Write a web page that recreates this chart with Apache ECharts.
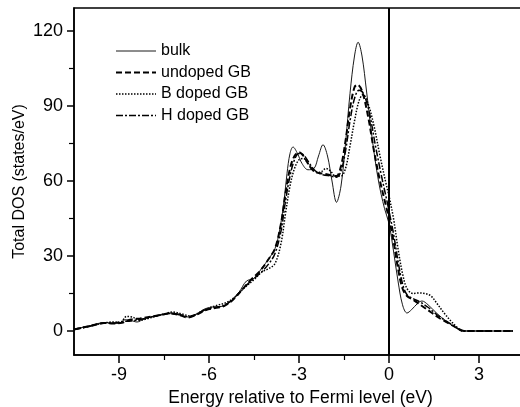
<!DOCTYPE html>
<html>
<head>
<meta charset="utf-8">
<script src="https://cdn.jsdelivr.net/npm/echarts@6/dist/echarts.min.js"></script>
<style>
html,body{margin:0;padding:0;background:#fff;}
#chart{width:520px;height:407px;}
</style>
</head>
<body>
<div id="chart"></div>
<script>
var seriesNames = ['bulk', 'undoped GB', 'B doped GB', 'H doped GB'];
var xMajorTicks = [-9, -6, -3, 0, 3];
var xMinorTicks = [-7.5, -4.5, -1.5, 1.5, 4.5];
var yMajorTicks = [0, 30, 60, 90, 120];
var yMinorTicks = [15, 45, 75, 105];

var bulk = [[-10.5,0.8],[-10.2,1.5],[-9.9,2.3],[-9.5,3.4],[-9.2,3.2],[-9.0,3.0],[-8.8,4.5],[-8.6,4.2],[-8.4,3.6],[-8.2,4.6],[-7.9,5.8],[-7.6,6.6],[-7.3,7.2],[-7.0,6.8],[-6.7,5.6],[-6.5,6.0],[-6.2,8.5],[-5.9,9.6],[-5.6,9.8],[-5.3,11.5],[-5.0,15.5],[-4.75,20],[-4.5,21],[-4.25,25],[-4.0,29],[-3.8,33],[-3.65,40],[-3.5,52],[-3.4,63],[-3.3,71],[-3.2,73.6],[-3.05,71],[-2.9,67],[-2.7,64.5],[-2.5,65],[-2.35,70],[-2.2,74.5],[-2.05,70],[-1.9,60],[-1.75,51.5],[-1.6,58],[-1.45,75],[-1.3,95],[-1.15,110],[-1.03,115.5],[-0.9,110],[-0.75,96],[-0.55,76],[-0.35,60],[-0.15,49],[0,43],[0.15,32],[0.3,20],[0.45,10.5],[0.6,7.2],[0.75,8.5],[0.95,11],[1.1,12],[1.3,10.5],[1.6,7],[1.9,4],[2.2,1.5],[2.45,0.1],[2.6,0],[4.13,0]];

var undoped = [[-10.5,0.6],[-10.2,1.4],[-9.9,2.2],[-9.5,3.2],[-9.2,3.0],[-8.9,3.3],[-8.6,4.6],[-8.3,5.0],[-8.0,5.6],[-7.6,6.4],[-7.3,7.0],[-7.0,6.4],[-6.7,5.4],[-6.4,6.6],[-6.1,8.4],[-5.8,9.2],[-5.5,10],[-5.2,12.5],[-4.9,16.5],[-4.6,20.5],[-4.3,24],[-4.0,29],[-3.8,33],[-3.6,43],[-3.45,55],[-3.3,65],[-3.15,70],[-3.0,71.5],[-2.85,70],[-2.65,66],[-2.45,63.5],[-2.2,63],[-1.95,62.3],[-1.75,62],[-1.6,66],[-1.45,76],[-1.3,89],[-1.15,97.5],[-1.05,98.5],[-0.9,96],[-0.7,86],[-0.5,72],[-0.3,60],[-0.1,50],[0,45],[0.15,36],[0.3,25],[0.45,17],[0.6,14],[0.8,12.5],[1.1,10],[1.4,7.5],[1.7,5],[2.0,3],[2.3,1],[2.5,0],[4.13,0]];

var bDoped = [[-10.5,0.7],[-10.2,1.4],[-9.9,2.2],[-9.5,3.2],[-9.2,3.6],[-8.95,3.4],[-8.75,5.8],[-8.55,5.6],[-8.35,4.2],[-8.1,4.8],[-7.8,5.8],[-7.5,6.8],[-7.2,7.6],[-6.9,6.8],[-6.6,6.0],[-6.3,7.6],[-6.0,9.2],[-5.7,10.4],[-5.4,11.5],[-5.1,14],[-4.8,17.5],[-4.5,20.5],[-4.25,23.5],[-4.0,25],[-3.8,27],[-3.6,35],[-3.45,47],[-3.3,58],[-3.15,65],[-3.0,68.5],[-2.85,69],[-2.7,67],[-2.5,64],[-2.3,63.5],[-2.1,65],[-1.95,64],[-1.8,62],[-1.6,62],[-1.45,65],[-1.3,74],[-1.15,84],[-1.0,92],[-0.87,94.5],[-0.7,91],[-0.5,82],[-0.3,70],[-0.1,59],[0.0,54],[0.15,45],[0.3,33],[0.45,23],[0.6,17],[0.8,15],[1.0,15.2],[1.2,15],[1.4,14],[1.6,11],[1.85,7],[2.1,3.5],[2.3,1.2],[2.47,0],[4.13,0]];

var hDoped = [[-10.5,0.6],[-10.2,1.3],[-9.9,2.1],[-9.5,3.1],[-9.2,3.1],[-8.9,3.8],[-8.6,4.0],[-8.3,4.6],[-8.0,5.4],[-7.6,6.4],[-7.3,7.0],[-7.0,6.5],[-6.7,5.8],[-6.4,6.8],[-6.1,8.6],[-5.8,9.4],[-5.5,10.2],[-5.2,12.8],[-4.9,16.5],[-4.6,20],[-4.3,23],[-4.0,27],[-3.8,31],[-3.6,40],[-3.45,52],[-3.3,62],[-3.15,68.5],[-3.0,71],[-2.85,70.5],[-2.65,67],[-2.45,64],[-2.2,62.5],[-1.95,62],[-1.75,61.5],[-1.6,64],[-1.45,72],[-1.3,84],[-1.15,93],[-1.0,96.3],[-0.85,95],[-0.65,87],[-0.45,74],[-0.25,62],[-0.05,51],[0.0,48],[0.15,39],[0.3,28],[0.45,19],[0.6,14.5],[0.8,13],[1.05,11.5],[1.3,9.5],[1.6,6.5],[1.9,4],[2.2,1.8],[2.45,0],[4.13,0]];

var FONT = '"Liberation Sans", Arial, Helvetica, sans-serif';
var X_MIN = -10.5, X_MAX = 4.6, Y_MIN = -9.6, Y_MAX = 129.2;

var styles = [
  {color: '#000', width: 0.9, type: 'solid'},
  {color: '#000', width: 2, type: [6, 3]},
  {color: '#000', width: 1.5, type: [1.5, 1.5]},
  {color: '#000', width: 1.5, type: [7, 2, 2, 2]}
];

var chart = echarts.init(document.getElementById('chart'), null, {renderer: 'canvas'});

function lineSeries(name, data, lineStyle) {
  return {
    name: name, type: 'line', data: data, xAxisIndex: 0, yAxisIndex: 0,
    symbol: 'none', smooth: 0.35, animation: false,
    lineStyle: lineStyle, itemStyle: {color: '#000', opacity: 0}, z: 3
  };
}

var series = [
  lineSeries(seriesNames[0], bulk, styles[0]),
  lineSeries(seriesNames[1], undoped, styles[1]),
  lineSeries(seriesNames[2], bDoped, styles[2]),
  lineSeries(seriesNames[3], hDoped, styles[3])
];
series[0].markLine = {
  symbol: 'none', silent: true, animation: false,
  label: {show: false},
  lineStyle: {color: '#000', width: 2, type: 'solid'},
  data: [{xAxis: 0}]
};

chart.setOption({
  animation: false,
  backgroundColor: '#fff',
  textStyle: {fontFamily: FONT, color: '#000'},
  grid: {left: 74, top: 8, width: 453, height: 347, show: true, borderColor: '#000', borderWidth: 1.5,
         backgroundColor: 'transparent', containLabel: false, outerBoundsMode: 'none'},
  legend: {
    data: seriesNames.map(function (n, i) {
      return {name: n, lineStyle: styles[i], itemStyle: {opacity: 0}};
    }),
    orient: 'vertical', left: 110, top: 38,
    itemWidth: 40, itemHeight: 14, itemGap: 5.5,
    itemStyle: {opacity: 0},
    textStyle: {fontFamily: FONT, fontSize: 16, color: '#000'},
    inactiveColor: '#000'
  },
  xAxis: [{
    type: 'value', min: X_MIN, max: X_MAX, position: 'bottom',
    name: 'Energy relative to Fermi level (eV)', nameLocation: 'middle', nameGap: 30,
    nameTextStyle: {fontFamily: FONT, fontSize: 17.5, color: '#000'},
    axisLine: {show: true, onZero: false, lineStyle: {color: '#000', width: 1.5}},
    axisTick: {show: true, inside: false, length: 8, customValues: xMajorTicks, lineStyle: {color: '#000', width: 1.5}},
    axisLabel: {show: true, customValues: xMajorTicks, fontFamily: FONT, fontSize: 18, color: '#000', margin: 11},
    splitLine: {show: false}
  }, {
    type: 'value', min: X_MIN, max: X_MAX, position: 'bottom', gridIndex: 0, offset: 0,
    axisLine: {show: false, onZero: false},
    axisTick: {show: true, inside: false, length: 5, customValues: xMinorTicks, lineStyle: {color: '#000', width: 1.2}},
    axisLabel: {show: false},
    splitLine: {show: false}
  }],
  yAxis: [{
    type: 'value', min: Y_MIN, max: Y_MAX, position: 'left',
    name: 'Total DOS (states/eV)', nameLocation: 'middle', nameGap: 46, nameMoveOverlap: false,
    nameTextStyle: {fontFamily: FONT, fontSize: 16, color: '#000'},
    axisLine: {show: true, onZero: false, lineStyle: {color: '#000', width: 1.5}},
    axisTick: {show: true, inside: false, length: 7, customValues: yMajorTicks, lineStyle: {color: '#000', width: 1.5}},
    axisLabel: {show: true, customValues: yMajorTicks, fontFamily: FONT, fontSize: 18, color: '#000', margin: 11},
    splitLine: {show: false}
  }, {
    type: 'value', min: Y_MIN, max: Y_MAX, position: 'left', gridIndex: 0, offset: 0,
    axisLine: {show: false, onZero: false},
    axisTick: {show: true, inside: false, length: 5, customValues: yMinorTicks, lineStyle: {color: '#000', width: 1.2}},
    axisLabel: {show: false},
    splitLine: {show: false}
  }],
  series: series
});
</script>
</body>
</html>
